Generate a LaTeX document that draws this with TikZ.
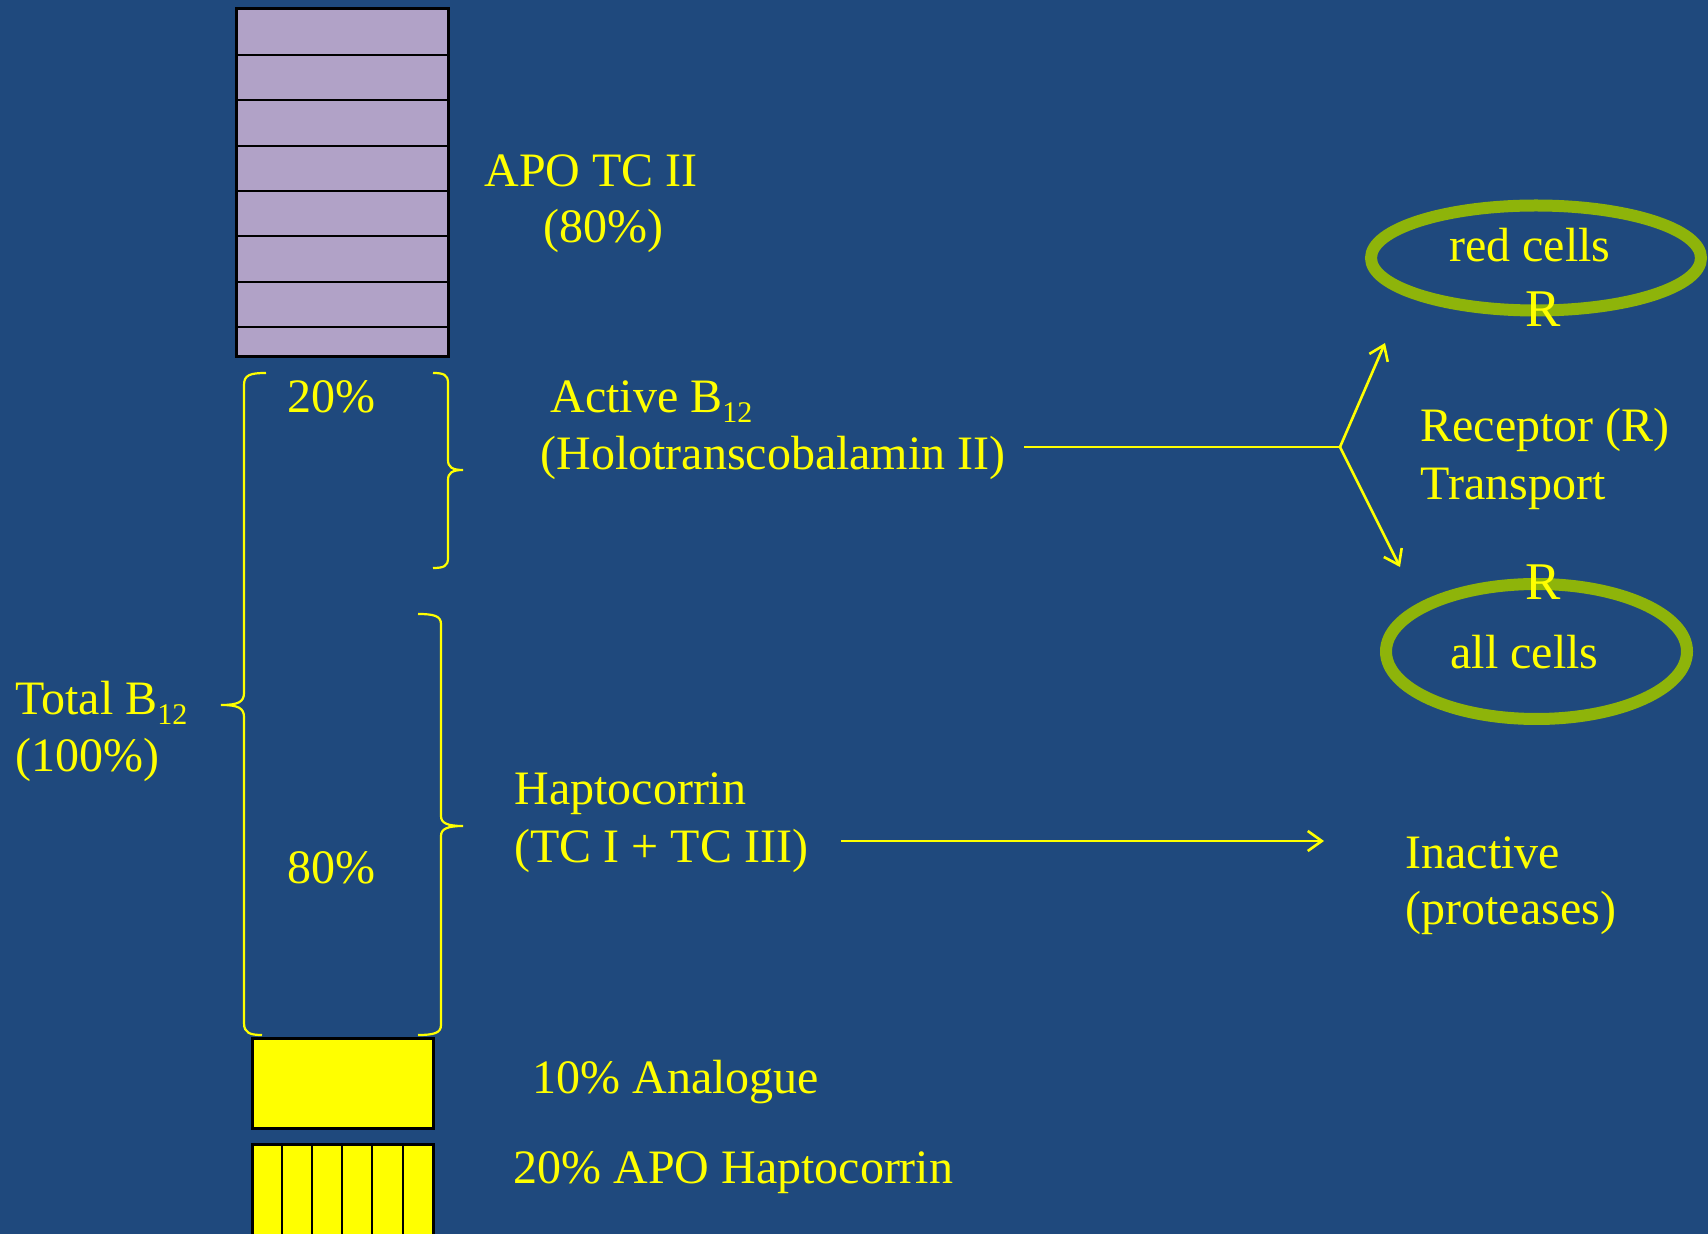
\documentclass[tikz,border=0pt]{standalone}
\usepackage{fontspec}
\setmainfont{Liberation Serif}
\usetikzlibrary{arrows.meta,shapes.geometric}
\definecolor{bg}{HTML}{1F497D}
\definecolor{txt}{HTML}{FFFF00}
\definecolor{purp}{HTML}{B1A2C7}
\definecolor{grn}{HTML}{8EB40A}
\newcommand\subnum[1]{\raisebox{-5pt}{\fontsize{15}{15}\selectfont #1}}
\tikzset{
  lbl/.style={text=txt, font=\fontsize{24}{28}\selectfont, inner sep=0pt, anchor=base west},
  rlbl/.style={text=txt, font=\fontsize{26.5}{30}\selectfont, inner sep=0pt, anchor=base},
  clbl/.style={text=txt, font=\fontsize{24}{28}\selectfont, inner sep=0pt, anchor=base},
  cellring/.style={draw=grn, line width=6pt, ellipse, inner sep=0pt},
  bracepath/.style={draw=txt, line width=1.1pt},
  plainline/.style={draw=txt, line width=1.3pt},
  conn/.style={draw=txt, line width=1.3pt, -{Straight Barb[length=7pt,width=10pt]}},
  boxedge/.style={draw=black, line width=1.5pt},
  boxline/.style={draw=black, line width=1pt}
}
\begin{document}
\begin{tikzpicture}[x=0.5pt,y=-0.5pt]
\useasboundingbox (0,0) rectangle (1708,1234);
\fill[bg] (0,0) rectangle (1708,1234);
\clip (0,0) rectangle (1708,1234);

% APO TC II stack
\fill[purp] (236,9) rectangle (448,357);
\foreach \yy in {55,100,146,191,236,282,327} \draw[boxline] (236,\yy) -- (448,\yy);
\draw[boxedge] (236,9) rectangle (448,357);

% analogue box
\fill[txt] (252,1038) rectangle (433,1128);
\draw[boxedge] (252,1038) rectangle (433,1128);

% APO haptocorrin box
\fill[txt] (252,1144) rectangle (433,1250);
\foreach \xx in {282,312,342,372,403} \draw[boxline] (\xx,1144) -- (\xx,1250);
\draw[boxedge] (252,1144) rectangle (433,1250);

% braces
\draw[bracepath] (266,373) .. controls (250,373) and (244,375) .. (244,385) -- (244,693)
  .. controls (244,702) and (238,705) .. (221,705)
  .. controls (238,705) and (244,708) .. (244,717) -- (244,1023)
  .. controls (244,1033) and (250,1035) .. (262,1035);
\draw[bracepath] (433,373) .. controls (444,373) and (448,375) .. (448,383) -- (448,460)
  .. controls (448,467) and (452,470) .. (463,470)
  .. controls (452,470) and (448,473) .. (448,480) -- (448,558)
  .. controls (448,566) and (444,568) .. (433,568);
\draw[bracepath] (418,614) .. controls (434,614) and (441,616) .. (441,624) -- (441,816)
  .. controls (441,823) and (447,826) .. (463,826)
  .. controls (447,826) and (441,829) .. (441,836) -- (441,1025)
  .. controls (441,1033) and (434,1035) .. (418,1035);

% labels
\node[lbl] (apo) at (484,187) {APO TC II};
\node[lbl] (apop) at (543,243) {(80\%)};
\node[lbl] (p20) at (287,413) {20\%};
\node[lbl] (act) at (550,413) {Active B\subnum{12}};
\node[lbl] (holo) at (540,470) {(Holotranscobalamin II)};
\node[lbl] (tot) at (15,715) {Total B\subnum{12}};
\node[lbl] (totp) at (15,772) {(100\%)};
\node[lbl] (hap) at (514,805) {Haptocorrin};
\node[lbl] (tc) at (514,863) {(TC I + TC III)};
\node[lbl] (p80) at (287,883) {80\%};
\node[lbl] (inact) at (1405,868) {Inactive};
\node[lbl] (prot) at (1405,924) {(proteases)};
\node[lbl] (rec) at (1420,442) {Receptor (R)};
\node[lbl] (trans) at (1420,500) {Transport};
\node[lbl] (ana) at (532,1093) {10\% Analogue};
\node[lbl] (apoh) at (513,1183) {20\% APO Haptocorrin};

% cells
\node[cellring, minimum width=165pt, minimum height=52.5pt] (redcell) at (1536,258) {};
\node[cellring, minimum width=150.5pt, minimum height=67.5pt] (allcell) at (1536.5,651.5) {};
\node[clbl] (redtxt) at (1530,262) {red cells};
\node[clbl] (alltxt) at (1524.5,669) {all cells};
\node[rlbl] (rtop) at (1543,327) {R};
\node[rlbl] (rbot) at (1543,600) {R};

% connectors
\coordinate (hstart) at (1024,447);
\coordinate (junc) at (1340,447);
\coordinate (upT) at (1385,343);
\coordinate (dnT) at (1400,567);
\draw[plainline] (hstart) -- (junc);
\draw[conn] (junc) -- (upT);
\draw[conn] (junc) -- (dnT);
\coordinate (hs) at (841,841);
\coordinate (he) at (1324,841);
\draw[conn] (hs) -- (he);
\end{tikzpicture}
\end{document}
